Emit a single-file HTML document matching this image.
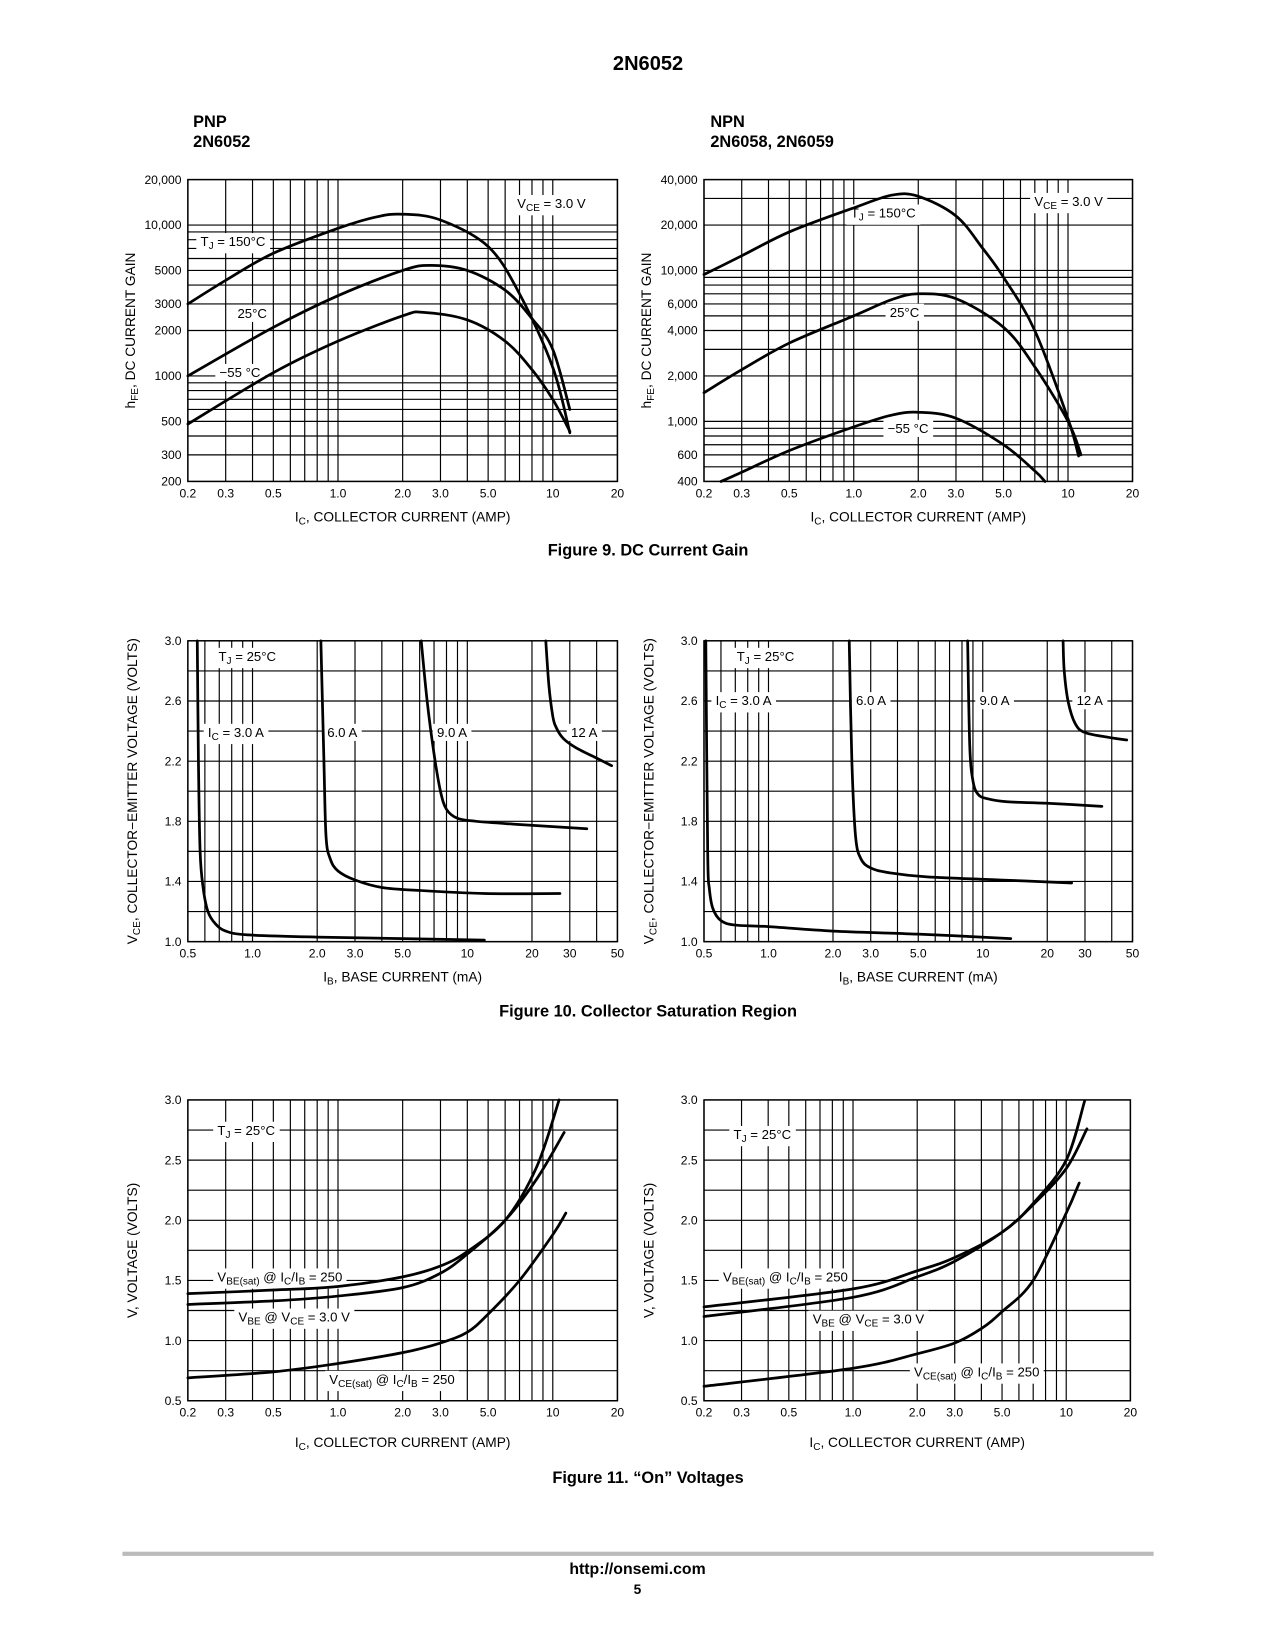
<!DOCTYPE html>
<html><head><meta charset="utf-8">
<style>
html,body{margin:0;padding:0;background:#fff;}
svg{display:block;}
text{font-family:"Liberation Sans Narrow","Liberation Sans",sans-serif;fill:#000;}
.b{font-family:"Liberation Sans",sans-serif;font-weight:bold;}
.tk{font-size:11.5px;}
.lb{font-size:12.5px;}
.at{font-size:13px;}
</style></head>
<body>
<svg id="page" width="1275" height="1650" viewBox="0 0 1208 1563" xmlns="http://www.w3.org/2000/svg">
<text class="b" x="614" y="66" text-anchor="middle" font-size="19">2N6052</text>
<text class="b" x="183" y="120" font-size="15.5">PNP</text>
<text class="b" x="183" y="139" font-size="15.5">2N6052</text>
<text class="b" x="673" y="120" font-size="15.5">NPN</text>
<text class="b" x="673" y="139" font-size="15.5">2N6058, 2N6059</text>
<text class="b" x="614" y="526" text-anchor="middle" font-size="15.5">Figure 9. DC Current Gain</text>
<text class="b" x="614" y="963" text-anchor="middle" font-size="15.5">Figure 10. Collector Saturation Region</text>
<text class="b" x="614" y="1405" text-anchor="middle" font-size="15.5">Figure 11. “On” Voltages</text>
<rect x="116" y="1470" width="977" height="4" fill="#bbb"/>
<text class="b" x="604" y="1491" text-anchor="middle" font-size="15">http://onsemi.com</text>
<text class="b" x="604" y="1510" text-anchor="middle" font-size="13">5</text>
<g id="charts"></g>
</svg>
<script>
// ---- Chart 1: PNP hFE ----
const c1_x150 = [0.2,0.3,0.5,1.0,1.5,2.0,3.0,5.0,7.0,10,12];
const c1_y150 = [3000,4300,6500,9500,11300,11800,10800,7200,3500,1140,420];
const c1_x25 = [0.2,0.5,1.0,2.0,2.7,4.0,6.0,8.0,10,12];
const c1_y25 = [1000,2100,3400,5000,5400,5000,3700,2400,1500,600];
const c1_xm55 = [0.2,0.5,1.0,2.0,2.5,4.0,6.0,8.0,10,12];
const c1_ym55 = [480,1050,1700,2500,2640,2350,1700,1100,700,430];
const c1_xticks = ["0.2","0.3","0.5","1.0","2.0","3.0","5.0","10","20"];
const c1_yticks = ["200","300","500","1000","2000","3000","5000","10,000","20,000"];
// ---- Chart 2: NPN hFE ----
const c2_x150 = [0.2,0.3,0.5,1.0,1.5,2.0,3.0,4.0,5.0,7.0,10,11.2];
const c2_y150 = [9400,12500,18000,26000,31500,31000,23000,14000,9000,4000,1040,590];
const c2_x25 = [0.2,0.3,0.5,1.0,1.5,2.0,3.0,5.0,7.0,10,11.5];
const c2_y25 = [1550,2200,3300,5000,6400,7000,6500,4200,2300,1000,600];
const c2_xm55 = [0.24,0.3,0.5,1.0,1.5,2.0,3.0,5.0,7.0,7.8];
const c2_ym55 = [400,460,640,920,1100,1150,1050,700,470,400];
const c2_xticks = ["0.2","0.3","0.5","1.0","2.0","3.0","5.0","10","20"];
const c2_yticks = ["400","600","1,000","2,000","4,000","6,000","10,000","20,000","40,000"];
// ---- Chart 3: PNP saturation ----
const c3_ib3 = [0.553,0.56,0.57,0.59,0.62,0.67,0.75,0.95,2,5,12];
const c3_v3 = [3.0,2.2,1.6,1.35,1.2,1.12,1.07,1.045,1.03,1.02,1.01];
const c3_ib6 = [2.08,2.15,2.2,2.3,2.5,3,4,6,12,27];
const c3_v6 = [3.0,2.2,1.7,1.55,1.47,1.41,1.36,1.34,1.32,1.32];
const c3_ib9 = [6.1,6.5,7,7.5,8,9,11,17,36];
const c3_v9 = [3.0,2.6,2.25,2.0,1.88,1.82,1.8,1.78,1.75];
const c3_ib12 = [23.2,24,25,26,28,32,40,47];
const c3_v12 = [3.0,2.7,2.5,2.42,2.35,2.29,2.22,2.17];
const c3_xticks = ["0.5","1.0","2.0","3.0","5.0","10","20","30","50"];
const c3_yticks = ["1.0","1.4","1.8","2.2","2.6","3.0"];
// ---- Chart 4: NPN saturation ----
const c4_ib3 = [0.51,0.52,0.53,0.55,0.6,0.7,1,2,5,13.5];
const c4_v3 = [3.0,1.6,1.35,1.22,1.14,1.11,1.1,1.07,1.05,1.02];
const c4_ib6 = [2.38,2.45,2.55,2.7,3,3.6,5.5,12,26];
const c4_v6 = [3.0,2.2,1.7,1.55,1.49,1.46,1.43,1.41,1.39];
const c4_ib9 = [8.5,8.7,9,9.5,10.5,13,20,36];
const c4_v9 = [3.0,2.3,2.07,1.98,1.95,1.93,1.92,1.9];
const c4_ib12 = [23.7,24,25,27,30,38,47];
const c4_v12 = [3.0,2.8,2.6,2.45,2.39,2.36,2.34];
const c4_xticks = ["0.5","1.0","2.0","3.0","5.0","10","20","30","50"];
const c4_yticks = ["1.0","1.4","1.8","2.2","2.6","3.0"];
// ---- Chart 5: PNP on voltages ----
const c5_xbes = [0.2,0.5,1,2,3,4,6,8.4,10.7];
const c5_vbes = [1.39,1.42,1.45,1.53,1.62,1.74,2.0,2.44,3.0];
const c5_xbe = [0.2,0.5,1,2,3,4,6,8.4,11.3];
const c5_vbe = [1.3,1.33,1.37,1.44,1.56,1.72,2.0,2.34,2.73];
const c5_xces = [0.2,0.5,1,2,3,4,5,7,10,11.5];
const c5_vces = [0.69,0.74,0.81,0.9,0.98,1.07,1.22,1.5,1.88,2.06];
const c5_xticks = ["0.2","0.3","0.5","1.0","2.0","3.0","5.0","10","20"];
const c5_yticks = ["0.5","1.0","1.5","2.0","2.5","3.0"];
// ---- Chart 6: NPN on voltages ----
const c6_xbes = [0.2,1,2,3,5,7,10,12.2];
const c6_vbes = [1.28,1.43,1.58,1.69,1.9,2.14,2.5,2.99];
const c6_xbe = [0.2,1,2,3,5,7,10,12.5];
const c6_vbe = [1.2,1.36,1.53,1.66,1.9,2.13,2.43,2.76];
const c6_xces = [0.2,1,2,3,4,5,7,10,11.5];
const c6_vces = [0.62,0.77,0.89,0.98,1.1,1.24,1.5,2.06,2.31];
const c6_xticks = ["0.2","0.3","0.5","1.0","2.0","3.0","5.0","10","20"];
const c6_yticks = ["0.5","1.0","1.5","2.0","2.5","3.0"];

const NS = "http://www.w3.org/2000/svg";
const root = document.getElementById('charts');
function mk(tag, attrs, parent){const e=document.createElementNS(NS,tag);for(const k in attrs)e.setAttribute(k,attrs[k]);(parent||root).appendChild(e);return e;}
function num(s){return parseFloat(s.replace(/,/g,''));}
function logMinor(lo,hi){const out=[];let d=Math.pow(10,Math.floor(Math.log10(lo)+1e-9));for(;d<hi*1.0001;d*=10){for(let m=1;m<10;m++){const v=m*d;if(v>=lo*0.9999&&v<=hi*1.0001)out.push(v);}}return out;}

function chart(o){
  const g=mk('g',{});
  
  
  const X=o.x0,W=o.x1-o.x0,Y=o.y0,H=o.y1-o.y0;
  const sx=v=>X+W*(Math.log10(v)-Math.log10(o.xmin))/(Math.log10(o.xmax)-Math.log10(o.xmin));
  const sy=o.ylog?(v=>o.y1-H*(Math.log10(v)-Math.log10(o.ymin))/(Math.log10(o.ymax)-Math.log10(o.ymin))):(v=>o.y1-H*(v-o.ymin)/(o.ymax-o.ymin));
  const grid=mk('g',{stroke:'#000','stroke-width':1.1},g);
  
  
  logMinor(o.xmin,o.xmax).forEach(v=>{const l=mk('line',{x1:sx(v),x2:sx(v),y1:Y,y2:o.y1},grid);});
  const yl=o.ylog?logMinor(o.ymin,o.ymax):(()=>{const a=[];for(let v=o.ymin;v<=o.ymax+1e-9;v+=o.ystep)a.push(v);return a;})();
  yl.forEach(v=>{const l=mk('line',{x1:X,x2:o.x1,y1:sy(v),y2:sy(v)},grid);});
  const fr=mk('rect',{x:X,y:Y,width:W,height:H,fill:'none',stroke:'#000','stroke-width':1.4},g);
  
  o.xticks.forEach(s=>{const t=mk('text',{x:sx(num(s)),y:o.y1+15,'text-anchor':'middle',class:'tk'},g);t.textContent=s;});
  o.yticks.forEach(s=>{const t=mk('text',{x:X-6,y:sy(num(s))+4,'text-anchor':'end',class:'tk'},g);t.textContent=s;});
  const lg=mk('g',{},g);
  
  o.labels.forEach(L=>{
    const t=mk('text',{x:L[0],y:L[1],class:'lb'},lg);t.innerHTML=L[2];
    
    const bb=t.getBBox();
    const r=mk('rect',{x:bb.x-4,y:bb.y-1,width:bb.width+8,height:bb.height+2,fill:'#fff'});
    
    lg.insertBefore(r,t);
  });
  o.series.forEach(S=>{
    const pts=S.xs.map((v,i)=>[sx(v),sy(S.ys[i])]);
    let d='M'+pts[0][0].toFixed(1)+','+pts[0][1].toFixed(1);
    for(let i=0;i<pts.length-1;i++){
      const p0=pts[Math.max(0,i-1)],p1=pts[i],p2=pts[i+1],p3=pts[Math.min(pts.length-1,i+2)];
      const c1=[p1[0]+(p2[0]-p0[0])/6,p1[1]+(p2[1]-p0[1])/6],c2=[p2[0]-(p3[0]-p1[0])/6,p2[1]-(p3[1]-p1[1])/6];
      d+=' C'+c1.map(n=>n.toFixed(1))+' '+c2.map(n=>n.toFixed(1))+' '+p2.map(n=>n.toFixed(1));
    }
    const p=mk('path',{d:d,fill:'none',stroke:'#000','stroke-width':2.6,'stroke-linecap':'round'},g);
    
    
  });
  const xt=mk('text',{x:(X+o.x1)/2,y:o.y1+o.xtOff,'text-anchor':'middle',class:'at'},g);xt.innerHTML=o.xtitle;
  
  const ytx=X-o.ytOff,yty=(Y+o.y1)/2;
  const yt=mk('text',{x:ytx,y:yty,'text-anchor':'middle',class:'at',transform:`rotate(-90 ${ytx} ${yty})`},g);yt.innerHTML=o.ytitle;
  
}
const sub=s=>`<tspan baseline-shift="-3" font-size="9.5">${s}</tspan>`;
const icTitle=`I${sub('C')}, COLLECTOR CURRENT (AMP)`;
const hfe=`h${sub('FE')}, DC CURRENT GAIN`;
const vceT=`V${sub('CE')}, COLLECTOR−EMITTER VOLTAGE (VOLTS)`;
const vT='V, VOLTAGE (VOLTS)';
const L=(a,b,c)=>[a,b,c];

chart({name:'pnp-dc-gain-chart',x0:178,x1:585,y0:170,y1:456,xmin:0.2,xmax:20,ylog:true,ymin:200,ymax:20000,
 xticks:c1_xticks,yticks:c1_yticks,xtitle:icTitle,ytitle:hfe,xtOff:38,ytOff:50,
 labels:[L(490,197,`V${sub('CE')} = 3.0 V`),L(190,233,`T${sub('J')} = 150°C`),L(225,301,'25°C'),L(208,357,'−55 °C')],
 series:[{name:'tj-150c-curve',xs:c1_x150,ys:c1_y150},{name:'tj-25c-curve',xs:c1_x25,ys:c1_y25},{name:'tj-minus55c-curve',xs:c1_xm55,ys:c1_ym55}]});
chart({name:'npn-dc-gain-chart',x0:667,x1:1073,y0:170,y1:456,xmin:0.2,xmax:20,ylog:true,ymin:400,ymax:40000,
 xticks:c2_xticks,yticks:c2_yticks,xtitle:icTitle,ytitle:hfe,xtOff:38,ytOff:50,
 labels:[L(980,195,`V${sub('CE')} = 3.0 V`),L(806,206,`T${sub('J')} = 150°C`),L(843,300,'25°C'),L(841,410,'−55 °C')],
 series:[{name:'tj-150c-curve',xs:c2_x150,ys:c2_y150},{name:'tj-25c-curve',xs:c2_x25,ys:c2_y25},{name:'tj-minus55c-curve',xs:c2_xm55,ys:c2_ym55}]});
chart({name:'pnp-saturation-chart',x0:178,x1:585,y0:607,y1:892,xmin:0.5,xmax:50,ylog:false,ymin:1,ymax:3,ystep:0.2,
 xticks:c3_xticks,yticks:c3_yticks,xtitle:`I${sub('B')}, BASE CURRENT (mA)`,ytitle:vceT,xtOff:38,ytOff:48,
 labels:[L(207,626,`T${sub('J')} = 25°C`),L(197,698,`I${sub('C')} = 3.0 A`),L(310,698,'6.0 A'),L(414,698,'9.0 A'),L(541,698,'12 A')],
 series:[{name:'ic-3a-curve',xs:c3_ib3,ys:c3_v3},{name:'ic-6a-curve',xs:c3_ib6,ys:c3_v6},{name:'ic-9a-curve',xs:c3_ib9,ys:c3_v9},{name:'ic-12a-curve',xs:c3_ib12,ys:c3_v12}]});
chart({name:'npn-saturation-chart',x0:667,x1:1073,y0:607,y1:892,xmin:0.5,xmax:50,ylog:false,ymin:1,ymax:3,ystep:0.2,
 xticks:c4_xticks,yticks:c4_yticks,xtitle:`I${sub('B')}, BASE CURRENT (mA)`,ytitle:vceT,xtOff:38,ytOff:48,
 labels:[L(698,626,`T${sub('J')} = 25°C`),L(678,668,`I${sub('C')} = 3.0 A`),L(811,668,'6.0 A'),L(928,668,'9.0 A'),L(1020,668,'12 A')],
 series:[{name:'ic-3a-curve',xs:c4_ib3,ys:c4_v3},{name:'ic-6a-curve',xs:c4_ib6,ys:c4_v6},{name:'ic-9a-curve',xs:c4_ib9,ys:c4_v9},{name:'ic-12a-curve',xs:c4_ib12,ys:c4_v12}]});
chart({name:'pnp-on-voltage-chart',x0:178,x1:585,y0:1042,y1:1327,xmin:0.2,xmax:20,ylog:false,ymin:0.5,ymax:3,ystep:0.25,
 xticks:c5_xticks,yticks:c5_yticks,xtitle:icTitle,ytitle:vT,xtOff:44,ytOff:48,
 labels:[L(206,1075,`T${sub('J')} = 25°C`),L(206,1214,`V${sub('BE(sat)')} @ I${sub('C')}/I${sub('B')} = 250`),L(226,1252,`V${sub('BE')} @ V${sub('CE')} = 3.0 V`),L(312,1311,`V${sub('CE(sat)')} @ I${sub('C')}/I${sub('B')} = 250`)],
 series:[{name:'vbe-sat-curve',xs:c5_xbes,ys:c5_vbes},{name:'vbe-curve',xs:c5_xbe,ys:c5_vbe},{name:'vce-sat-curve',xs:c5_xces,ys:c5_vces}]});
chart({name:'npn-on-voltage-chart',x0:667,x1:1071,y0:1042,y1:1327,xmin:0.2,xmax:20,ylog:false,ymin:0.5,ymax:3,ystep:0.25,
 xticks:c6_xticks,yticks:c6_yticks,xtitle:icTitle,ytitle:vT,xtOff:44,ytOff:48,
 labels:[L(695,1079,`T${sub('J')} = 25°C`),L(685,1214,`V${sub('BE(sat)')} @ I${sub('C')}/I${sub('B')} = 250`),L(770,1254,`V${sub('BE')} @ V${sub('CE')} = 3.0 V`),L(866,1304,`V${sub('CE(sat)')} @ I${sub('C')}/I${sub('B')} = 250`)],
 series:[{name:'vbe-sat-curve',xs:c6_xbes,ys:c6_vbes},{name:'vbe-curve',xs:c6_xbe,ys:c6_vbe},{name:'vce-sat-curve',xs:c6_xces,ys:c6_vces}]});
</script>
</body></html>
